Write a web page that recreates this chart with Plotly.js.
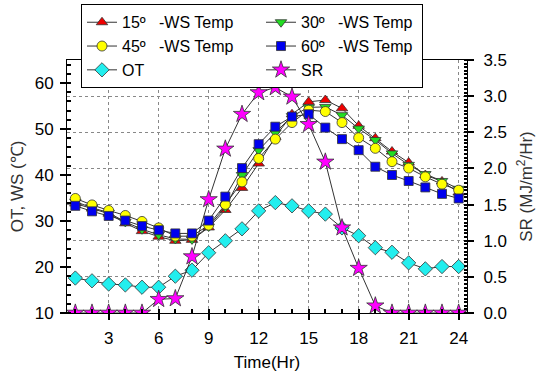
<!DOCTYPE html>
<html><head><meta charset="utf-8">
<script src="https://cdn.plot.ly/plotly-3.0.1.min.js"></script>
<style>html,body{margin:0;padding:0;background:#fff}#chart{width:536px;height:372px}</style>
</head><body><div id="chart"></div>
<script>
const hours = [1,2,3,4,5,6,7,8,9,10,11,12,13,14,15,16,17,18,19,20,21,22,23,24];
const ws15 = [33.8,32.7,31.6,29.5,27.8,26.6,25.7,25.9,28.6,32.4,37.2,42.5,48.3,53.2,55.9,56.3,54.5,50.7,48.0,45.1,42.7,40.0,38.6,36.2];
const ws30 = [34.2,32.9,31.8,29.8,28.2,27.0,26.1,26.0,28.8,33.0,40.0,45.4,49.2,52.8,54.7,54.8,53.0,50.1,47.6,44.7,42.2,40.2,38.7,37.0];
const ws45 = [34.9,33.5,32.3,31.2,29.9,28.5,26.7,26.7,29.1,33.6,38.5,43.6,47.8,51.4,54.1,53.8,51.4,48.1,45.8,42.9,41.5,39.6,38.0,36.7];
const ws60 = [33.3,32.1,31.1,30.1,28.9,28.0,27.3,27.3,30.1,35.3,41.5,46.7,50.5,52.7,53.2,50.3,47.8,45.4,41.8,40.0,38.7,37.3,35.9,34.9];
const ot   = [17.6,17.0,16.3,16.1,15.6,15.6,18.0,19.3,23.1,25.7,28.3,32.2,34.0,33.3,32.2,31.5,28.5,26.8,24.2,23.2,20.9,19.6,20.1,20.1];
const sr   = [0,0,0,0,0,0.19,0.20,0.78,1.57,2.27,2.75,3.05,3.12,2.99,2.61,2.09,1.18,0.62,0.10,0,0,0,0,0];
const names = ["15º\u00a0\u00a0 -WS Temp","30º\u00a0\u00a0 -WS Temp","45º\u00a0\u00a0 -WS Temp","60º\u00a0\u00a0 -WS Temp","OT","SR"];
const xTicks = [3,6,9,12,15,18,21,24];

const lineStyle = {color:'#333', width:1};
function mk(sym, col, size){ return {symbol:sym, color:col, size:size, line:{color:'#333', width:0.8}}; }
const W1 = 134, W2 = 116;
const traces = [
  {x:hours, y:ws15, name:names[0], legendwidth:W1, mode:'lines+markers', line:lineStyle, marker:mk('triangle-up','#ee0000',10)},
  {x:hours, y:ws30, name:names[1], legendwidth:W2, mode:'lines+markers', line:lineStyle, marker:mk('triangle-down','#22dd22',10)},
  {x:hours, y:ws45, name:names[2], legendwidth:W1, mode:'lines+markers', line:lineStyle, marker:mk('circle','#ffff00',10)},
  {x:hours, y:ws60, name:names[3], legendwidth:W2, mode:'lines+markers', line:lineStyle, marker:mk('square','#0000ee',9)},
  {x:hours, y:ot, name:names[4], legendwidth:W1, mode:'lines+markers', line:lineStyle, marker:mk('diamond','#22eeee',11)},
  {x:hours, y:sr, name:names[5], legendwidth:W2, yaxis:'y2', mode:'lines+markers', line:lineStyle, marker:mk('star','#ff00ff',13)}
];
const fam = '"Liberation Sans", Arial, sans-serif';
const layout = {
  width:536, height:372,
  margin:{l:67, r:69, t:60, b:59, autoexpand:false},
  paper_bgcolor:'#fff', plot_bgcolor:'#fff',
  font:{family:fam, size:17, color:'#000'},
  showlegend:true,
  legend:{orientation:'h', x:0.035, xanchor:'left', y:1.22, yanchor:'top',
    bgcolor:'#fff', bordercolor:'#000', borderwidth:1, entrywidthmode:'pixels',
    font:{family:fam, size:16, color:'#000'}, tracegroupgap:0},
  xaxis:{range:[0.5,24.5], tickvals:xTicks, ticktext:xTicks.map(String),
    showline:true, linecolor:'#000', linewidth:1, mirror:true,
    ticks:'outside', ticklen:6, tickwidth:2, tickcolor:'#000', ticklabelstandoff:4,
    minor:{dtick:1, tick0:0, ticks:'inside', ticklen:4, tickcolor:'#000', showgrid:false},
    showgrid:true, gridcolor:'#888', griddash:'dot', gridwidth:1, zeroline:false,
    title:{text:'Time(Hr)', font:{family:fam, size:17}, standoff:9},
    tickfont:{size:17}},
  yaxis:{range:[10,65], dtick:10, tick0:0, showline:true, linecolor:'#000', linewidth:1,
    ticks:'outside', ticklen:6, tickwidth:2, tickcolor:'#000', ticklabelstandoff:3,
    minor:{dtick:2, ticks:'inside', ticklen:4, tickcolor:'#000', showgrid:false},
    showgrid:false, zeroline:false,
    title:{text:'OT, WS (℃)', font:{family:fam, size:17, color:'#333'}, standoff:6},
    tickfont:{size:17}},
  yaxis2:{range:[0,3.5], dtick:0.5, tick0:0, tickformat:'.1f', overlaying:'y', side:'right',
    showline:true, linecolor:'#000', linewidth:1,
    ticks:'outside', ticklen:6, tickwidth:2, tickcolor:'#000', ticklabelstandoff:6,
    minor:{dtick:0.05, ticks:'inside', ticklen:3, tickcolor:'#000', showgrid:false},
    showgrid:true, gridcolor:'#888', griddash:'dot', gridwidth:1, zeroline:false,
    title:{text:'SR (MJ/m<sup>2</sup>/Hr)', font:{family:fam, size:17, color:'#333'}, standoff:18},
    tickfont:{size:17}}
};
Plotly.newPlot('chart', traces, layout, {staticPlot:true, displayModeBar:false});
</script></body></html>
